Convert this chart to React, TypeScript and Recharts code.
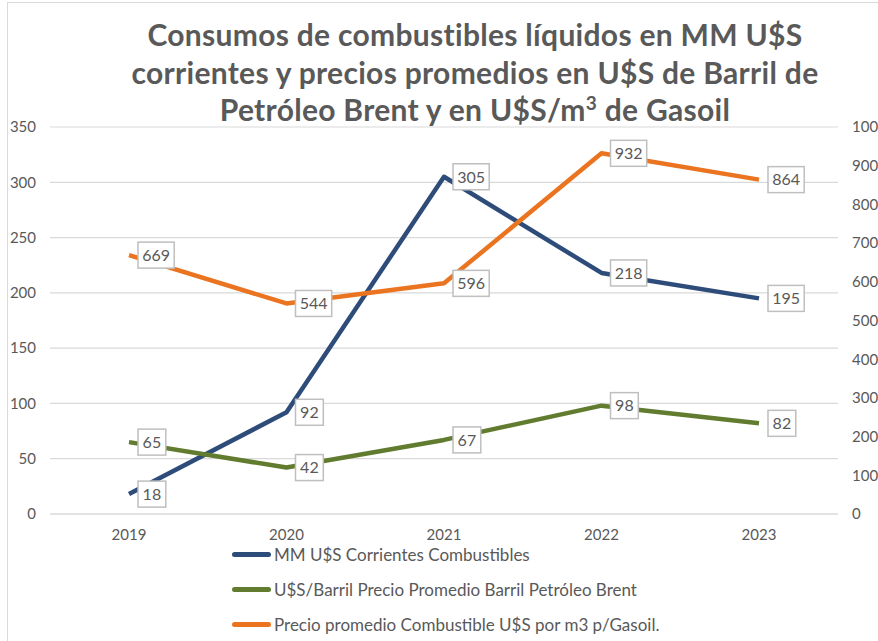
import { LineChart, Line, XAxis, YAxis, CartesianGrid } from "recharts";

const years = ["2019", "2020", "2021", "2022", "2023"];
const consumoMM = [18, 92, 305, 218, 195];
const brentBarril = [65, 42, 67, 98, 82];
const gasoilM3 = [669, 544, 596, 932, 864];

const leftTicks = [0, 50, 100, 150, 200, 250, 300, 350];
const rightTicks = [0, 100, 200, 300, 400, 500, 600, 700, 800, 900, 1000];

const seriesInfo = [
  { key: "consumo", name: "MM U$S Corrientes Combustibles", color: "#2E4C7A" },
  { key: "brent", name: "U$S/Barril Precio Promedio Barril Petróleo Brent", color: "#617B2F" },
  { key: "gasoil", name: "Precio promedio Combustible U$S por m3 p/Gasoil.", color: "#EB7421" },
];

const data = years.map((year, i) => ({
  year,
  consumo: consumoMM[i],
  brent: brentBarril[i],
  gasoil: gasoilM3[i],
}));

const FONT = "Lato, 'Open Sans', sans-serif";
const GRAY = "#595959";

// boxed data label, placed to the right of the point like Excel does
const BoxLabel = (props: any) => {
  const { x, y, value } = props;
  const text = String(value);
  const w = text.length * 8.4 + 11;
  const h = 26;
  const bx = x + 9;
  return (
    <g>
      <rect
        x={bx}
        y={y - h / 2}
        width={w}
        height={h}
        fill="#ffffff"
        stroke="#BFBFBF"
        strokeWidth={1.5}
      />
      <text
        x={bx + w / 2}
        y={y}
        dy="0.36em"
        textAnchor="middle"
        fontSize={16}
        fontFamily={FONT}
        fill={GRAY}
      >
        {text}
      </text>
    </g>
  );
};

export default function App() {
  return (
    <div
      style={{
        position: "absolute",
        left: 0,
        top: 0,
        width: 878,
        height: 641,
        overflow: "hidden",
        background: "#ffffff",
        fontFamily: FONT,
      }}
    >
      <div
        style={{
          position: "absolute",
          left: 7,
          top: 2,
          width: 900,
          height: 700,
          borderLeft: "1.5px solid #D9D9D9",
          borderTop: "1.5px solid #D9D9D9",
        }}
      />

      <div
        style={{
          position: "absolute",
          left: 75,
          width: 800,
          top: 16,
          textAlign: "center",
          fontSize: 30,
          letterSpacing: 0.3,
          lineHeight: "37.5px",
          fontWeight: 700,
          color: GRAY,
        }}
      >
        <div>Consumos de combustibles líquidos en MM U$S</div>
        <div>corrientes y precios promedios en U$S de Barril de</div>
        <div style={{ height: 37.5 }}>
          Petróleo Brent y en U$S/m
          <span
            style={{
              fontSize: 19,
              position: "relative",
              top: -11,
              lineHeight: 0,
            }}
          >
            3
          </span>{" "}
          de Gasoil
        </div>
      </div>

      <LineChart
        width={878}
        height={641}
        data={data}
        margin={{ top: 127, right: 0, bottom: 97, left: 0 }}
        style={{ position: "absolute", left: 0, top: 0 }}
      >
        <CartesianGrid
          yAxisId="left"
          vertical={false}
          stroke="#D9D9D9"
          strokeWidth={1.2}
        />
        <XAxis
          dataKey="year"
          padding={{ left: 79, right: 79 }}
          height={30}
          tickLine={false}
          axisLine={{ stroke: "#D9D9D9", strokeWidth: 1.2 }}
          tickSize={0}
          tickMargin={15}
          tick={{ fill: GRAY, fontSize: 15, fontFamily: FONT }}
        />
        <YAxis
          yAxisId="left"
          width={50}
          domain={[0, 350]}
          ticks={leftTicks}
          axisLine={false}
          tickLine={false}
          tickSize={0}
          tickMargin={14}
          tick={{ fill: GRAY, fontSize: 15, fontFamily: FONT }}
        />
        <YAxis
          yAxisId="right"
          orientation="right"
          width={40}
          domain={[0, 1000]}
          ticks={rightTicks}
          axisLine={false}
          tickLine={false}
          tickSize={0}
          tickMargin={14}
          tick={{ fill: GRAY, fontSize: 15, fontFamily: FONT, textAnchor: "start" }}
        />
        <Line
          yAxisId="left"
          dataKey="consumo"
          name={seriesInfo[0].name}
          stroke={seriesInfo[0].color}
          strokeWidth={4.5}
          dot={false}
          strokeLinejoin="round"
          label={<BoxLabel />}
          isAnimationActive={false}
        />
        <Line
          yAxisId="left"
          dataKey="brent"
          name={seriesInfo[1].name}
          stroke={seriesInfo[1].color}
          strokeWidth={4.5}
          dot={false}
          strokeLinejoin="round"
          label={<BoxLabel />}
          isAnimationActive={false}
        />
        <Line
          yAxisId="right"
          dataKey="gasoil"
          name={seriesInfo[2].name}
          stroke={seriesInfo[2].color}
          strokeWidth={4.5}
          dot={false}
          strokeLinejoin="round"
          label={<BoxLabel />}
          isAnimationActive={false}
        />
      </LineChart>

      <div style={{ position: "absolute", left: 232, top: 537 }}>
        {seriesInfo.map((s) => (
          <div
            key={s.key}
            style={{ display: "flex", alignItems: "center", height: 35 }}
          >
            <div
              style={{
                width: 39,
                height: 5,
                borderRadius: 3,
                background: s.color,
                marginRight: 3,
              }}
            />
            <span style={{ fontSize: 17, color: GRAY, whiteSpace: "nowrap" }}>
              {s.name}
            </span>
          </div>
        ))}
      </div>
    </div>
  );
}
